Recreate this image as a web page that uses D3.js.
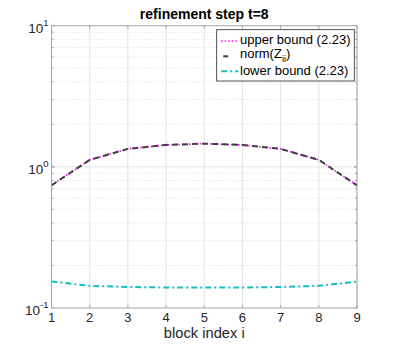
<!DOCTYPE html>
<html>
<head>
<meta charset="utf-8">
<script src="https://cdn.jsdelivr.net/npm/d3@7"></script>
<style>
  body { margin: 0; background: #fff; }
  text { font-family: "Liberation Sans", Arial, sans-serif; }
</style>
</head>
<body>
<svg id="chart" width="395" height="347"></svg>
<script>
// data
const blocks = [1, 2, 3, 4, 5, 6, 7, 8, 9];
const upperBound = [0.74, 1.12, 1.34, 1.43, 1.46, 1.43, 1.34, 1.12, 0.74];
const normZ = [0.74, 1.12, 1.34, 1.43, 1.46, 1.43, 1.34, 1.12, 0.74];
const lowerBound = [0.154, 0.1435, 0.141, 0.1397, 0.1395, 0.1397, 0.141, 0.1435, 0.154];
const yTickExps = [-1, 0, 1];

const margin = { left: 51.5, right: 38, top: 25.7, bottom: 39 };
const W = 395, H = 347;

const svg = d3.select("#chart");

const x = d3.scaleLinear().domain([1, 9]).range([margin.left, W - margin.right]);
const y = d3.scaleLog().domain([0.1, 10]).range([H - margin.bottom, margin.top]);

// grid
const grid = svg.append("g");
blocks.forEach(b => {
    grid.append("line")
        .attr("x1", x(b)).attr("x2", x(b))
        .attr("y1", y(0.1)).attr("y2", y(10))
        .attr("stroke", "#e3e3e3").attr("stroke-width", 1);
});
[0.1, 1].forEach(dec => {
    for (let k = 2; k <= 9; k++) {
        grid.append("line")
            .attr("x1", x(1)).attr("x2", x(9))
            .attr("y1", y(dec * k)).attr("y2", y(dec * k))
            .attr("stroke", "#dcdcdc").attr("stroke-width", 1)
            .attr("stroke-dasharray", "1,2");
    }
});
grid.append("line")
    .attr("x1", x(1)).attr("x2", x(9))
    .attr("y1", y(1)).attr("y2", y(1))
    .attr("stroke", "#e3e3e3").attr("stroke-width", 1);

// series
const line = vals => d3.line()
    .x((d, i) => x(blocks[i]))
    .y(d => y(d))(vals);

const series = [
    { name: "upper bound (2.23)", vals: upperBound, color: "#ff00ff", width: 1.6, dash: "1.5,2" },
    { name: "norm", vals: normZ, color: "#404040", width: 2, dash: "6,4" },
    { name: "lower bound (2.23)", vals: lowerBound, color: "#10bfbf", width: 2, dash: "6,3,2,3" }
];

series.forEach(s => {
    svg.append("path")
        .attr("d", line(s.vals))
        .attr("fill", "none")
        .attr("stroke", s.color)
        .attr("stroke-width", s.width)
        .attr("stroke-dasharray", s.dash);
});

// axes box
const axisColor = "#a6a6a6";
svg.append("rect")
    .attr("x", x(1)).attr("y", y(10))
    .attr("width", x(9) - x(1)).attr("height", y(0.1) - y(10))
    .attr("fill", "none").attr("stroke", axisColor).attr("stroke-width", 1);

// ticks
blocks.forEach(b => {
    svg.append("line").attr("x1", x(b)).attr("x2", x(b))
        .attr("y1", y(0.1)).attr("y2", y(0.1) - 3).attr("stroke", axisColor);
    svg.append("line").attr("x1", x(b)).attr("x2", x(b))
        .attr("y1", y(10)).attr("y2", y(10) + 3).attr("stroke", axisColor);
    svg.append("text")
        .attr("x", x(b)).attr("y", y(0.1) + 14)
        .attr("text-anchor", "middle")
        .attr("font-size", 13).attr("fill", "#262626")
        .text(b);
});
[0.1, 1].forEach(dec => {
    for (let k = 1; k <= 10; k++) {
        const len = (k === 1 || k === 10) ? 3 : 2;
        const v = dec * k;
        svg.append("line").attr("x1", x(1)).attr("x2", x(1) + len)
            .attr("y1", y(v)).attr("y2", y(v)).attr("stroke", axisColor);
        svg.append("line").attr("x1", x(9)).attr("x2", x(9) - len)
            .attr("y1", y(v)).attr("y2", y(v)).attr("stroke", axisColor);
    }
});
yTickExps.forEach(e => {
    const t = svg.append("text")
        .attr("x", x(1) - 3).attr("y", y(Math.pow(10, e)) + 7)
        .attr("text-anchor", "end")
        .attr("font-size", 13.5).attr("fill", "#262626");
    t.append("tspan").text("10");
    t.append("tspan").attr("dy", -7).attr("font-size", 9.5).text(e);
});

// labels
svg.append("text")
    .attr("x", (x(1) + x(9)) / 2).attr("y", 18.5)
    .attr("text-anchor", "middle")
    .attr("font-size", 14).attr("font-weight", "bold").attr("fill", "#000")
    .text("refinement step t=8");

svg.append("text")
    .attr("x", (x(1) + x(9)) / 2).attr("y", 337.5)
    .attr("text-anchor", "middle")
    .attr("font-size", 14.7).attr("fill", "#262626")
    .text("block index i");

// legend
const lg = svg.append("g").attr("transform", "translate(216.7,29.7)");
lg.append("rect")
    .attr("width", 137.6).attr("height", 51.3)
    .attr("fill", "#fff").attr("stroke", "#262626").attr("stroke-width", 0.8);

const rowsY = [11.3, 26.6, 41.6];
const textY = [14.3, 28.2, 45];
series.forEach((s, i) => {
    const ry = rowsY[i];
    lg.append("line")
        .attr("x1", s.name === "norm" ? 6.5 : 4.5).attr("x2", s.name === "norm" ? 11.5 : 21.5)
        .attr("y1", ry).attr("y2", ry)
        .attr("stroke", s.color).attr("stroke-width", s.width)
        .attr("stroke-dasharray", s.name === "norm" ? null : s.dash);
    const t = lg.append("text")
        .attr("x", 23.3).attr("y", textY[i])
        .attr("font-size", 13).attr("fill", "#000");
    if (s.name === "norm") {
        t.append("tspan").text("norm(Z");
        t.append("tspan").attr("dy", 4).attr("font-size", 9).text("ii");
        t.append("tspan").attr("dy", -4).text(")");
    } else {
        t.text(s.name);
    }
});
</script>
</body>
</html>
